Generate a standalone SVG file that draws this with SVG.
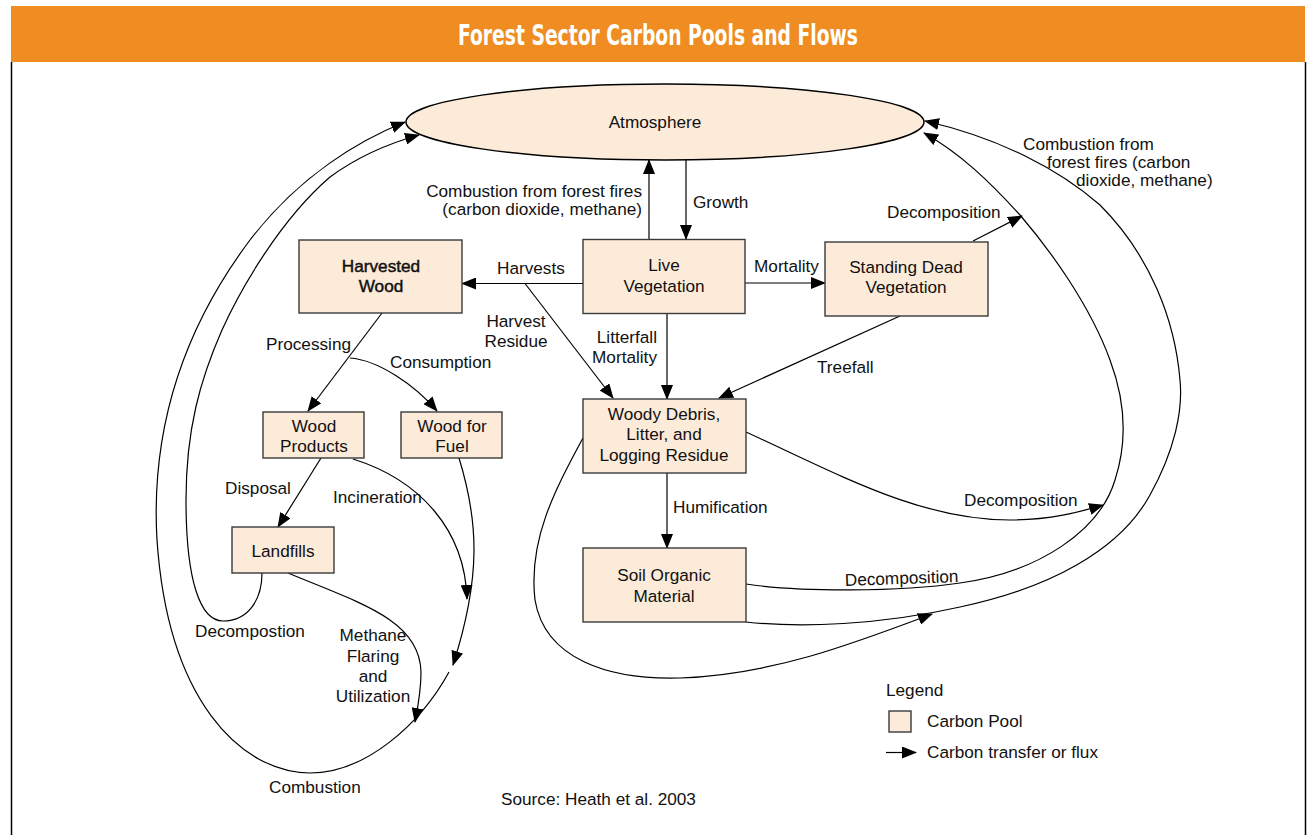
<svg xmlns="http://www.w3.org/2000/svg" width="1308" height="835" viewBox="0 0 1308 835">
<defs>
<marker id="ah" markerUnits="userSpaceOnUse" markerWidth="15" markerHeight="12" refX="14" refY="6" orient="auto" viewBox="0 0 15 12">
<path d="M0,0 L15,6 L0,12 Z" fill="#000"/>
</marker>
<style>
.pool{fill:#FDEBDA;stroke:#3a3a3a;stroke-width:1.4}
.t{font-family:"Liberation Sans",Arial,sans-serif;font-size:17.2px;fill:#111}
.m{text-anchor:middle}
.e{text-anchor:end}
.c{fill:none;stroke:#000;stroke-width:1.2}
.a{fill:none;stroke:#000;stroke-width:1.2;marker-end:url(#ah)}
</style>
</defs>
<rect width="1308" height="835" fill="#fff"/>
<g id="frame">
<rect x="11" y="6" width="1294" height="56" fill="#EF8D22"/>
<line x1="11.5" y1="62" x2="11.5" y2="835" stroke="#000" stroke-width="1.5"/>
<line x1="1305.5" y1="62" x2="1305.5" y2="835" stroke="#000" stroke-width="1.5"/>
<text x="658" y="44.5" text-anchor="middle" font-family="'DejaVu Sans Condensed','DejaVu Sans',sans-serif" font-weight="bold" font-size="29" fill="#fff" textLength="400" lengthAdjust="spacingAndGlyphs">Forest Sector Carbon Pools and Flows</text>
</g>
<g id="connectors">
<line class="a" x1="649" y1="239" x2="649" y2="160"/>
<line class="a" x1="686" y1="160" x2="686" y2="239"/>
<line class="a" x1="583" y1="283.5" x2="462" y2="283.5"/>
<line class="a" x1="525" y1="283.5" x2="613" y2="398"/>
<line class="a" x1="667" y1="313" x2="667" y2="399"/>
<line class="a" x1="745" y1="283" x2="825" y2="283"/>
<line class="a" x1="900" y1="316" x2="719" y2="398"/>
<line class="a" x1="973" y1="241" x2="1022" y2="216"/>
<line class="a" x1="667" y1="473" x2="667" y2="548"/>
<path class="a" d="M746,584 C800,592 900,592 960,583 C1040,572 1100,530 1115,480 C1128,440 1125,400 1110,360 C1090,305 1050,250 1020,215 C990,182 960,153 924,133"/>
<path class="a" d="M746,432 C840,475 920,520 1010,520 C1050,520 1080,512 1103,505"/>
<path class="a" d="M746,622 C800,628 880,625 960,607 C1050,588 1120,550 1150,495 C1175,450 1183,410 1180,380 C1175,320 1150,255 1100,205 C1060,170 1000,138 925,121"/>
<path class="a" d="M583,438 C555,490 528,540 535,600 C545,660 610,680 680,678 C770,675 850,645 932,614"/>
<line class="a" x1="382" y1="313" x2="308" y2="411"/>
<path class="a" d="M350,358 C378,360 415,385 437,411"/>
<line class="a" x1="321" y1="458" x2="278" y2="527"/>
<path class="a" d="M353,459 C420,480 465,530 467,599"/>
<path class="a" d="M459,458 C478,520 482,575 453,665"/>
<path class="a" d="M449,672 C420,725 365,773 310,773 C240,772 168,700 157,540 C150,420 190,320 250,240 C300,175 360,140 405,122"/>
<path class="a" d="M288,573 C360,603 420,620 421,672 C421,692 418,706 415,722"/>
<path class="a" d="M262,573 C262,600 248,621 223,621 C200,621 186,580 186,500 C186,430 200,380 222,330 C240,290 280,220 330,177 C360,155 390,143 419,135"/>
</g>
<g id="atmosphere">
<ellipse cx="665" cy="122" rx="259" ry="38" fill="#FDEBDA" stroke="#000" stroke-width="1.5"/>
<text class="t m" x="655" y="128">Atmosphere</text>
</g>
<g id="harvested-wood">
<rect class="pool" x="299" y="240" width="163" height="73"/>
<text class="t m" x="381" y="272" stroke="#111" stroke-width="0.45">Harvested</text>
<text class="t m" x="381" y="292" stroke="#111" stroke-width="0.45">Wood</text>
</g>
<g id="live-vegetation">
<rect class="pool" x="583" y="239.5" width="162" height="74"/>
<text class="t m" x="664" y="271">Live</text>
<text class="t m" x="664" y="292">Vegetation</text>
</g>
<g id="standing-dead">
<rect class="pool" x="825" y="242" width="163" height="74"/>
<text class="t m" x="906" y="273">Standing Dead</text>
<text class="t m" x="906" y="293">Vegetation</text>
</g>
<g id="wood-products">
<rect class="pool" x="263" y="412" width="101" height="46"/>
<text class="t m" x="314" y="432">Wood</text>
<text class="t m" x="314" y="452">Products</text>
</g>
<g id="wood-fuel">
<rect class="pool" x="401" y="412" width="101" height="46"/>
<text class="t m" x="452" y="432">Wood for</text>
<text class="t m" x="452" y="452">Fuel</text>
</g>
<g id="landfills">
<rect class="pool" x="232" y="527" width="102" height="46"/>
<text class="t m" x="283" y="557">Landfills</text>
</g>
<g id="woody-debris">
<rect class="pool" x="583" y="399" width="163" height="74"/>
<text class="t m" x="664" y="419.5">Woody Debris,</text>
<text class="t m" x="664" y="440">Litter, and</text>
<text class="t m" x="664" y="460.5">Logging Residue</text>
</g>
<g id="soil-organic">
<rect class="pool" x="583" y="548" width="163" height="74"/>
<text class="t m" x="664" y="581">Soil Organic</text>
<text class="t m" x="664" y="602">Material</text>
</g>
<g id="labels">
<text class="t e" x="642" y="197">Combustion from forest fires</text>
<text class="t e" x="642" y="215">(carbon dioxide, methane)</text>
<text class="t" x="693" y="208">Growth</text>
<text class="t" x="497" y="274">Harvests</text>
<text class="t m" x="516" y="327">Harvest</text>
<text class="t m" x="516" y="347">Residue</text>
<text class="t e" x="657" y="343">Litterfall</text>
<text class="t e" x="657" y="363">Mortality</text>
<text class="t" x="754" y="272">Mortality</text>
<text class="t" x="887" y="218">Decomposition</text>
<text class="t" x="817" y="373">Treefall</text>
<text class="t" x="1023" y="150">Combustion from</text>
<text class="t" x="1047" y="168">forest fires (carbon</text>
<text class="t" x="1076" y="186">dioxide, methane)</text>
<text class="t" x="266" y="350">Processing</text>
<text class="t" x="390" y="368">Consumption</text>
<text class="t" x="225" y="494">Disposal</text>
<text class="t" x="333" y="503">Incineration</text>
<text class="t" x="673" y="513">Humification</text>
<text class="t" x="964" y="506">Decomposition</text>
<text class="t" x="845" y="586" transform="rotate(-2 845 586)">Decomposition</text>
<text class="t" x="195" y="637">Decompostion</text>
<text class="t m" x="373" y="641">Methane</text>
<text class="t m" x="373" y="662">Flaring</text>
<text class="t m" x="373" y="682">and</text>
<text class="t m" x="373" y="702">Utilization</text>
<text class="t" x="269" y="793">Combustion</text>
<text class="t" x="501" y="805">Source: Heath et al. 2003</text>
</g>
<g id="legend">
<text class="t" x="886" y="696">Legend</text>
<rect class="pool" x="889" y="711" width="22" height="21"/>
<text class="t" x="927" y="727">Carbon Pool</text>
<line class="a" x1="886" y1="752.5" x2="916" y2="752.5"/>
<text class="t" x="927" y="758">Carbon transfer or flux</text>
</g>
</svg>
